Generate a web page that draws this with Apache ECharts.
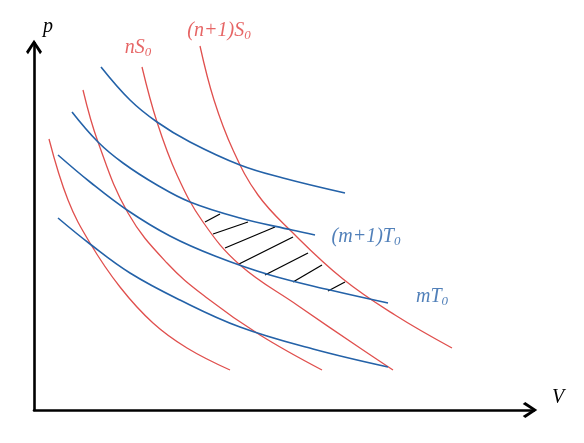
<!DOCTYPE html>
<html><head><meta charset="utf-8">
<script src="https://cdn.jsdelivr.net/npm/echarts@6/dist/echarts.min.js"></script>
<style>html,body{margin:0;padding:0;background:#fff}#c{width:584px;height:443px}</style>
</head><body><div id="c"></div>
<script>
// Adiabats (red), V-p pairs
const adiabat1 = [[0.30,5.42],[0.68,4.20],[1.12,3.34],[1.72,2.46],[2.38,1.74],[3.06,1.24],[3.92,0.80]];
const adiabat2 = [[0.98,6.40],[1.28,5.36],[1.88,3.94],[2.66,2.94],[3.46,2.24],[4.52,1.50],[5.76,0.80]];
const adiabatN = [[2.16,6.86],[2.46,5.76],[2.86,4.70],[3.38,3.76],[4.12,2.90],[5.26,2.10],[6.52,1.24],[7.18,0.80]];
const adiabatN1 = [[3.32,7.28],[3.60,6.20],[3.98,5.20],[4.48,4.30],[5.16,3.56],[6.18,2.62],[7.22,1.90],[8.36,1.24]];
// Isotherms (blue)
const isotherm1 = [[1.34,6.86],[1.92,6.20],[2.46,5.76],[3.12,5.36],[4.12,4.90],[4.98,4.64],[6.22,4.34]];
const isothermM1 = [[0.76,5.96],[1.28,5.36],[1.78,4.94],[2.46,4.50],[3.12,4.16],[4.12,3.84],[5.16,3.60],[5.62,3.50]];
const isothermM = [[0.48,5.10],[1.12,4.56],[1.86,4.00],[2.72,3.48],[3.62,3.08],[4.72,2.70],[5.92,2.40],[7.08,2.14]];
const isotherm4 = [[0.48,3.84],[1.12,3.32],[1.92,2.74],[2.92,2.20],[4.12,1.66],[5.58,1.22],[7.08,0.86]];
// Hatch segments in the shaded cycle region
const hatch = [
  [[3.42,3.76],[3.72,3.92]],
  [[3.58,3.52],[4.28,3.76]],
  [[3.82,3.24],[4.82,3.66]],
  [[4.10,2.92],[5.18,3.46]],
  [[4.62,2.70],[5.48,3.14]],
  [[5.18,2.56],[5.76,2.90]],
  [[5.88,2.38],[6.22,2.56]]
];
// Curve labels
const redLabels = [{pos:[2.08,7.24], main:'nS', sub:'0'},{pos:[3.70,7.58], main:'(n+1)S', sub:'0'}];
const blueLabels = [{pos:[6.64,3.46], main:'(m+1)T', sub:'0'},{pos:[7.96,2.26], main:'mT', sub:'0'}];

const RED = '#e0504e', BLUE = '#2462a8', LRED = '#e03e3e', LBLUE = '#2560a8';
const FONT = 'Liberation Serif';
const chevron = 'path://M0 0 L8 12 L6 14.5 L0 5 L-6 14.5 L-8 12 Z';

function redLine(d){return {type:'line',data:d,smooth:0.4,showSymbol:false,symbol:'none',lineStyle:{color:RED,width:1.3},silent:true};}
function blueLine(d){return {type:'line',data:d,smooth:0.4,showSymbol:false,symbol:'none',lineStyle:{color:BLUE,width:1.6},silent:true};}
function labelSeries(list,color){
  return {type:'scatter',symbolSize:0,clip:false,silent:true,
    data:list.map(o=>({value:o.pos,name:o.main})),
    label:{show:true,position:'inside',
      formatter:p=>'{a|'+list[p.dataIndex].main+'}{b|'+list[p.dataIndex].sub+'}',
      rich:{a:{fontFamily:FONT,fontStyle:'italic',fontSize:20,color:color,lineHeight:22},
            b:{fontFamily:FONT,fontStyle:'italic',fontSize:13,color:color,lineHeight:22,padding:[9,0,0,0]}}}};
}

const chart = echarts.init(document.getElementById('c'));
const axisCommon = {type:'value',min:0,axisTick:{show:false},axisLabel:{show:false},splitLine:{show:false},
  axisLine:{show:true,lineStyle:{color:'#000',width:2.6},symbol:['none',chevron],symbolSize:[16,14.5],symbolOffset:[0,-4]}};
chart.setOption({
  animation:false,
  grid:{left:34,right:50,top:43,bottom:33},
  xAxis:Object.assign({},axisCommon,{max:10,name:'V',nameGap:18,
    nameTextStyle:{fontFamily:FONT,fontStyle:'italic',fontSize:20,color:'#000',verticalAlign:'bottom',padding:[0,0,2,0]}}),
  yAxis:Object.assign({},axisCommon,{max:7.34,name:'p',nameGap:6,
    nameTextStyle:{fontFamily:FONT,fontStyle:'italic',fontSize:20,color:'#000',padding:[0,0,0,28]}}),
  series:[
    redLine(adiabat1),redLine(adiabat2),redLine(adiabatN),redLine(adiabatN1),
    blueLine(isotherm1),blueLine(isothermM1),blueLine(isothermM),blueLine(isotherm4),
    {type:'lines',coordinateSystem:'cartesian2d',silent:true,lineStyle:{color:'#000',width:1.3,opacity:1},
      data:hatch.map(s=>({coords:s}))},
    labelSeries(redLabels,LRED),labelSeries(blueLabels,LBLUE)
  ]
});
</script></body></html>
